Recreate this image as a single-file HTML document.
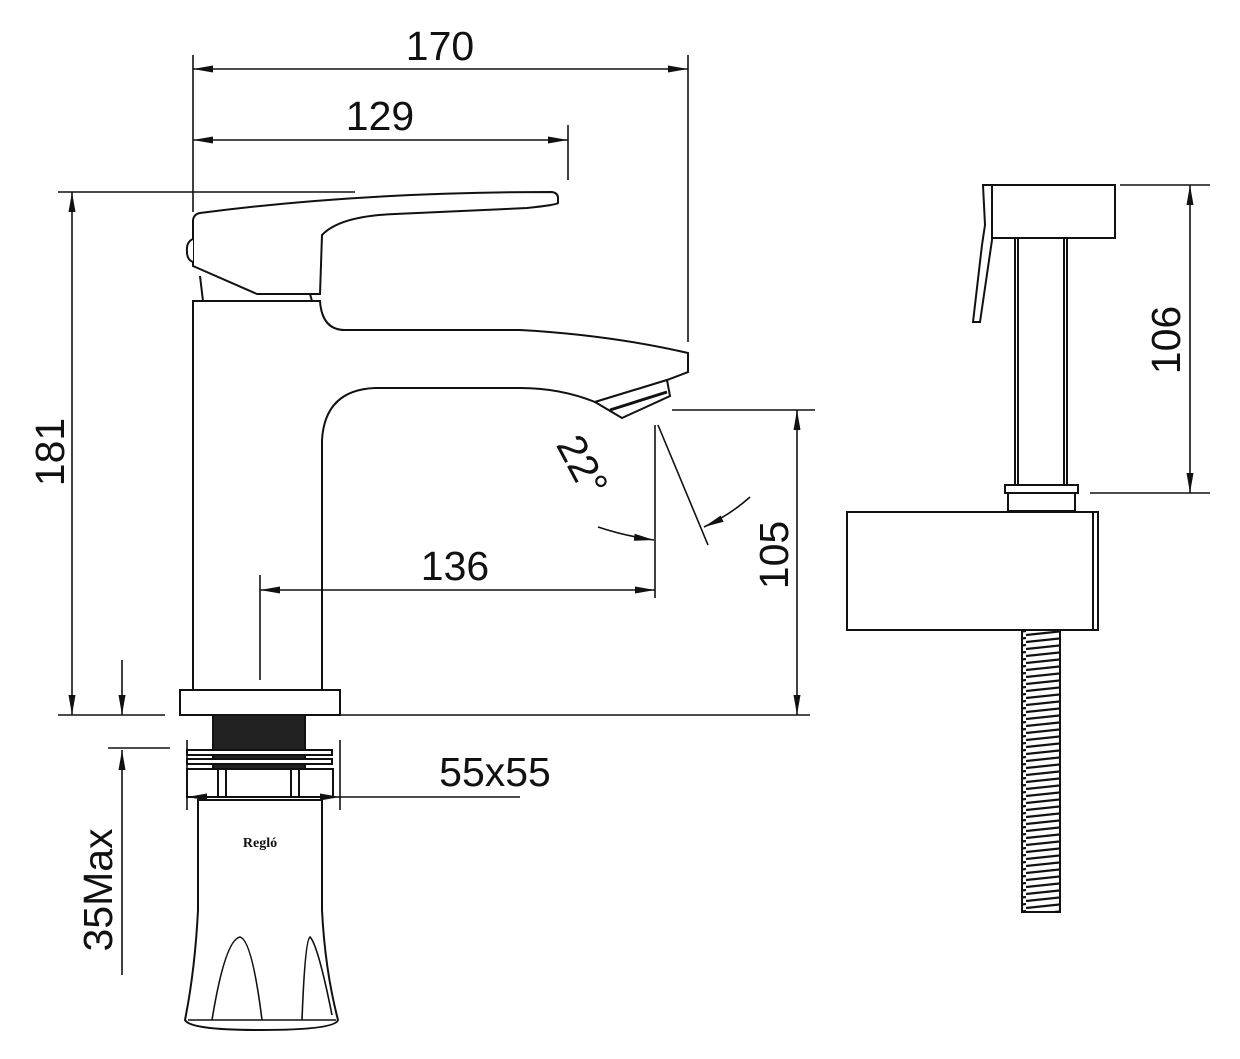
<!DOCTYPE html>
<html><head><meta charset="utf-8"><style>
html,body{margin:0;padding:0;background:#fff;width:1240px;height:1059px;overflow:hidden}
svg{display:block}
text{font-family:"Liberation Sans",Arial,sans-serif;fill:#111}
</style></head><body>
<svg width="1240" height="1059" viewBox="0 0 1240 1059" xmlns="http://www.w3.org/2000/svg">
<defs>
<marker id="b" viewBox="0 0 20 10" refX="20" refY="5" markerWidth="20" markerHeight="10" markerUnits="userSpaceOnUse" orient="auto-start-reverse"><path d="M0,1.5 L20,5 L0,8.5 Z" fill="#111"/></marker>
<pattern id="hatch" width="38" height="7" patternUnits="userSpaceOnUse"><rect width="38" height="7" fill="#fff"/><path d="M0,5 L38,1" stroke="#111" stroke-width="2.2"/></pattern>
</defs>
<g fill="#fff" stroke="#111" stroke-width="2">
<!-- faucet body -->
<path d="M193,690 L193,301 L320,301 Q322,330 345,330 L520,330 Q610,335 688,353 L688,372 L667,380 L595,402 Q560,388 520,388 L375,388 Q325,390 322,440 L322,690 Z"/>
<path d="M595,402 L667,380 L670,396 L622,418 Z"/>
<line x1="610" y1="410" x2="667" y2="392" stroke-width="3"/>
<!-- handle -->
<path d="M200,213 Q360,192 552,192 Q558,193 558,198 L558,203 Q556,205 527,208 L395,214 Q340,216 322,235 L320,294 L257,294 L193,266 L193,220 Q194,214 200,213 Z"/>
<path d="M193,239 Q186,242 187,252 Q187,260 193,262"/>
<line x1="200" y1="276" x2="203" y2="301"/>
<line x1="310" y1="294" x2="312" y2="301"/>
<!-- base -->
<rect x="180" y="690" width="160" height="25"/>
<rect x="213" y="715" width="92" height="35" fill="#222"/>
<rect x="187" y="750" width="145" height="5"/>
<rect x="213" y="755" width="92" height="4" fill="#222"/>
<rect x="187" y="759" width="145" height="5"/>
<rect x="213" y="764" width="92" height="5" fill="#222"/>
<rect x="187" y="769" width="146" height="28"/>
<line x1="218" y1="769" x2="218" y2="797"/><line x1="226" y1="769" x2="226" y2="797"/>
<line x1="291" y1="769" x2="291" y2="797"/><line x1="299" y1="769" x2="299" y2="797"/>
<path d="M198,800 L198,910 Q195,970 185,1020 Q190,1030 260,1030 Q335,1030 338,1020 Q325,970 322,910 L322,800 Z"/>
<path d="M212,1020 Q225,940 240,937 Q252,940 262,1020" stroke-width="1.6"/>
<path d="M302,1020 Q305,940 310,937 Q318,945 332,1015" stroke-width="1.6"/>
<line x1="188" y1="1020" x2="336" y2="1020" stroke-width="1.4"/>
<!-- right part -->
<rect x="988" y="185" width="127" height="53"/>
<path d="M983,185 L992,185 L992,240 L980,322 L973,322 L982,245 L985,225 Z"/>
<line x1="1015" y1="238" x2="1015" y2="485"/><line x1="1018" y1="238" x2="1018" y2="485"/>
<line x1="1064" y1="238" x2="1064" y2="485"/><line x1="1067" y1="238" x2="1067" y2="485"/>
<rect x="1005" y="485" width="73" height="8"/>
<rect x="1008" y="493" width="67" height="18"/>
<rect x="847" y="512" width="251" height="118"/>
<line x1="1093" y1="512" x2="1093" y2="630"/>
<rect x="1022" y="630" width="38" height="282" fill="url(#hatch)"/>
</g>
<g fill="none" stroke="#111" stroke-width="1.6">
<line x1="193" y1="55" x2="193" y2="212"/>
<line x1="688" y1="55" x2="688" y2="342"/>
<line x1="193" y1="69" x2="688" y2="69" marker-start="url(#b)" marker-end="url(#b)"/>
<line x1="568" y1="125" x2="568" y2="180"/>
<line x1="193" y1="140" x2="568" y2="140" marker-start="url(#b)" marker-end="url(#b)"/>
<line x1="58" y1="192" x2="355" y2="192"/>
<line x1="58" y1="715" x2="165" y2="715"/>
<line x1="72" y1="192" x2="72" y2="715" marker-start="url(#b)" marker-end="url(#b)"/>
<line x1="122" y1="660" x2="122" y2="715" marker-end="url(#b)"/>
<line x1="108" y1="748" x2="170" y2="748"/>
<line x1="122" y1="975" x2="122" y2="750" marker-end="url(#b)"/>
<line x1="340" y1="715" x2="810" y2="715"/>
<line x1="672" y1="410" x2="815" y2="410"/>
<line x1="797" y1="410" x2="797" y2="715" marker-start="url(#b)" marker-end="url(#b)"/>
<line x1="260" y1="575" x2="260" y2="680"/>
<line x1="655" y1="425" x2="655" y2="598"/>
<line x1="260" y1="590" x2="655" y2="590" marker-start="url(#b)" marker-end="url(#b)"/>
<line x1="658" y1="425" x2="708" y2="545"/>
<path d="M598,527 Q625,536 654,540" marker-end="url(#b)"/>
<path d="M750,497 Q730,515 704,527" marker-end="url(#b)"/>
<line x1="187" y1="740" x2="187" y2="810"/>
<line x1="340" y1="740" x2="340" y2="810"/>
<line x1="187" y1="797" x2="340" y2="797" marker-start="url(#b)" marker-end="url(#b)"/>
<line x1="340" y1="797" x2="520" y2="797"/>
<line x1="1120" y1="185" x2="1210" y2="185"/>
<line x1="1090" y1="493" x2="1210" y2="493"/>
<line x1="1190" y1="185" x2="1190" y2="493" marker-start="url(#b)" marker-end="url(#b)"/>
</g>
<g font-size="41">
<text x="440" y="60" text-anchor="middle">170</text>
<text x="380" y="130" text-anchor="middle">129</text>
<text x="455" y="580" text-anchor="middle">136</text>
<text x="495" y="786" text-anchor="middle">55x55</text>
<text transform="translate(64,452) rotate(-90)" text-anchor="middle">181</text>
<text transform="translate(112,890) rotate(-90)" text-anchor="middle">35Max</text>
<text transform="translate(788,555) rotate(-90)" text-anchor="middle">105</text>
<text transform="translate(1180,340) rotate(-90)" text-anchor="middle">106</text>
<text transform="translate(570,472) rotate(62)" text-anchor="middle">22°</text>
</g>
<text x="260" y="847" text-anchor="middle" font-size="14" font-weight="bold" style="font-family:'Liberation Serif',serif">Regló</text>
</svg>
</body></html>
